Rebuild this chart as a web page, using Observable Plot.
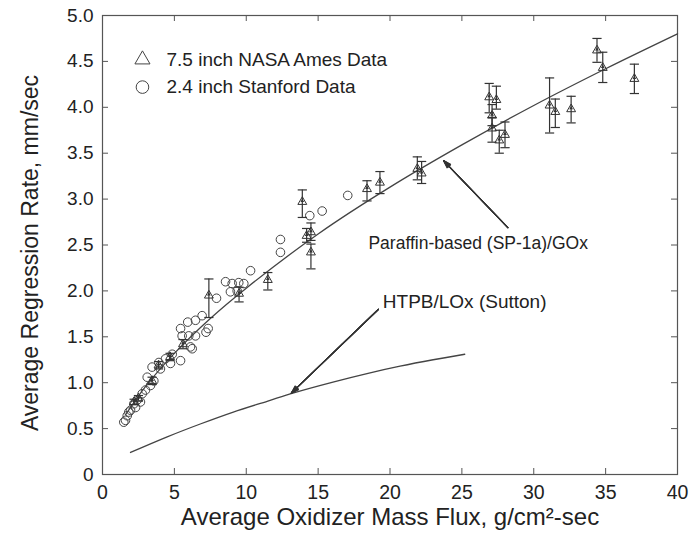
<!DOCTYPE html>
<html>
<head>
<meta charset="utf-8">
<script src="https://cdn.jsdelivr.net/npm/d3@7"></script>
<script src="https://cdn.jsdelivr.net/npm/@observablehq/plot@0.6"></script>
<style>
  html, body { margin: 0; padding: 0; background: #fff; }
</style>
</head>
<body>
<div id="chart"></div>
<script>
// ---- data ----
const xTicks = [0, 5, 10, 15, 20, 25, 30, 35, 40];
const yTicks = [0, 0.5, 1, 1.5, 2, 2.5, 3, 3.5, 4, 4.5, 5];

// 7.5 inch NASA Ames data: flux, rate, low, high
const amesG  = [34.4, 34.8, 37.0, 31.1, 31.5, 32.6, 26.9, 27.4, 27.1, 27.1, 27.6, 28.0, 21.9, 22.2, 19.3, 18.4, 13.9, 14.5, 14.2, 14.5, 11.5, 9.5, 7.4, 5.6, 4.7, 3.9, 3.45, 2.5, 2.2];
const amesR  = [4.62, 4.43, 4.31, 4.02, 3.95, 3.98, 4.11, 4.08, 3.91, 3.77, 3.64, 3.70, 3.33, 3.28, 3.18, 3.11, 2.97, 2.64, 2.60, 2.42, 2.12, 1.97, 1.95, 1.42, 1.28, 1.19, 1.02, 0.83, 0.79];
const amesLo = [4.49, 4.27, 4.15, 3.72, 3.78, 3.83, 3.94, 3.98, 3.80, 3.62, 3.50, 3.56, 3.21, 3.17, 3.06, 2.98, 2.80, 2.55, 2.53, 2.24, 2.01, 1.88, 1.71, 1.37, 1.24, 1.15, 0.98, 0.80, 0.76];
const amesHi = [4.75, 4.60, 4.47, 4.32, 4.09, 4.12, 4.26, 4.23, 4.03, 3.89, 3.75, 3.84, 3.46, 3.41, 3.30, 3.20, 3.10, 2.74, 2.68, 2.51, 2.20, 2.04, 2.13, 1.47, 1.32, 1.23, 1.06, 0.86, 0.82];

// 2.4 inch Stanford data: flux, rate
const stanG = [1.48, 1.60, 1.72, 1.83, 1.95, 2.18, 2.30, 2.41, 2.64, 2.76, 2.99, 3.11, 3.34, 3.45, 3.57, 3.92, 4.03, 4.38, 4.73, 4.85, 5.43, 5.54, 5.43, 5.93, 6.00, 6.12, 6.24, 6.47, 6.47, 6.93, 7.20, 7.35, 7.93, 8.56, 8.90, 9.02, 9.37, 9.48, 9.83, 10.3, 12.38, 12.38, 14.42, 15.28, 17.06];
const stanR = [0.57, 0.59, 0.64, 0.68, 0.70, 0.77, 0.73, 0.81, 0.79, 0.88, 0.92, 1.06, 0.97, 1.17, 1.02, 1.22, 1.15, 1.26, 1.21, 1.31, 1.24, 1.51, 1.59, 1.66, 1.51, 1.39, 1.37, 1.51, 1.68, 1.73, 1.55, 1.59, 1.92, 2.10, 1.99, 2.08, 2.00, 2.09, 2.08, 2.22, 2.56, 2.42, 2.82, 2.87, 3.04];

// Paraffin-based (SP-1a)/GOx fit curve
const parG = [1.6, 3, 5, 7.5, 10, 15, 20, 25, 30, 35, 40];
const parR = [0.65, 0.96, 1.32, 1.70, 2.03, 2.62, 3.13, 3.59, 4.02, 4.42, 4.80];

// HTPB/LOx (Sutton) curve
const htpbG = [1.95, 4.5, 6.8, 9.1, 11.5, 13.3, 16.1, 18.4, 20.7, 23.0, 25.2];
const htpbR = [0.24, 0.41, 0.55, 0.68, 0.80, 0.89, 1.01, 1.10, 1.18, 1.25, 1.31];

const legendLabels = ["7.5 inch NASA Ames Data", "2.4 inch Stanford Data"];
const xTitle = "Average Oxidizer Mass Flux, g/cm²-sec";
const yTitle = "Average Regression Rate, mm/sec";
const paraffinLabel = "Paraffin-based (SP-1a)/GOx";
const htpbLabel = "HTPB/LOx (Sutton)";

// ---- build tables ----
const ames = amesG.map((g, i) => ({G: g, r: amesR[i], lo: amesLo[i], hi: amesHi[i]}));
const stan = stanG.map((g, i) => ({G: g, r: stanR[i]}));
const par = parG.map((g, i) => ({G: g, r: parR[i]}));
const htpb = htpbG.map((g, i) => ({G: g, r: htpbR[i]}));

const legendTri = [{G: 2.78, r: 4.52, label: legendLabels[0]}];
const legendCirc = [{G: 2.78, r: 4.22, label: legendLabels[1]}];
const noteText = [
  {G: 18.5, r: 2.52, text: paraffinLabel, size: 17.5},
  {G: 19.5, r: 1.88, text: htpbLabel, size: 19}
];
const noteArrows = [
  {G1: 28.2, r1: 2.69, G2: 23.72, r2: 3.42},
  {G1: 19.2, r1: 1.80, G2: 13.13, r2: 0.886}
];

const W = 691, H = 533, mL = 102, mR = 14, mT = 15, mB = 59;
const pw = W - mL - mR, ph = H - mT - mB;
const ink = "#333";
const capW = 0.32;
const headAngles = [6, 12, 18, 24, 30, 36];

const chart = Plot.plot({
  width: W, height: H,
  marginLeft: mL, marginRight: mR, marginTop: mT, marginBottom: mB,
  x: {domain: [0, 40]},
  y: {domain: [0, 5]},
  style: {fontFamily: "'Liberation Sans', Arial, sans-serif", background: "#fff", color: "#222"},
  marks: [
    Plot.frame({stroke: "#555", strokeWidth: 1.2}),
    // inward ticks on all four sides
    Plot.tickX(xTicks, {x: d => d, insetTop: ph - 6, stroke: "#555"}),
    Plot.tickX(xTicks, {x: d => d, insetBottom: ph - 6, stroke: "#555"}),
    Plot.tickY(yTicks, {y: d => d, insetRight: pw - 6, stroke: "#555"}),
    Plot.tickY(yTicks, {y: d => d, insetLeft: pw - 6, stroke: "#555"}),
    Plot.axisX({ticks: xTicks, tickSize: 0, tickPadding: 11, fontSize: 19.5, label: null, tickFormat: d => String(d)}),
    Plot.axisY({ticks: yTicks, tickSize: 0, tickPadding: 9, fontSize: 19, label: null, tickFormat: d => d === 0 ? "0" : d.toFixed(1)}),
    Plot.text([xTitle], {frameAnchor: "bottom", dy: 50, text: d => d, fontSize: 24, fill: "#222"}),
    Plot.text([yTitle], {frameAnchor: "left", dx: -72, dy: 8, rotate: -90, textAnchor: "middle", text: d => d, fontSize: 23, fill: "#222"}),
    // curves
    Plot.line(par, {x: "G", y: "r", curve: "catmull-rom", stroke: "#444", strokeWidth: 1.3}),
    Plot.line(htpb, {x: "G", y: "r", curve: "catmull-rom", stroke: "#444", strokeWidth: 1.3}),
    // Stanford circles
    Plot.dot(stan, {x: "G", y: "r", r: 4.3, stroke: "#444", strokeWidth: 1, fill: "none"}),
    // Ames error bars
    Plot.ruleX(ames, {x: "G", y1: "lo", y2: "hi", stroke: ink, strokeWidth: 1.2}),
    Plot.link(ames, {x1: d => d.G - capW, x2: d => d.G + capW, y1: "hi", y2: "hi", stroke: ink, strokeWidth: 1.2}),
    Plot.link(ames, {x1: d => d.G - capW, x2: d => d.G + capW, y1: "lo", y2: "lo", stroke: ink, strokeWidth: 1.2}),
    Plot.dot(ames, {x: "G", y: "r", symbol: "triangle", r: 3.3, stroke: ink, strokeWidth: 1, fill: "none"}),
    Plot.dot(ames, {x: "G", y: "r", symbol: "triangle", r: 1.4, dy: -1, fill: ink, stroke: "none"}),
    // legend
    Plot.dot(legendTri, {x: "G", y: "r", symbol: "triangle", r: 5.6, stroke: "#444", strokeWidth: 1, fill: "none"}),
    Plot.dot(legendCirc, {x: "G", y: "r", symbol: "circle", r: 6.3, stroke: "#444", strokeWidth: 1, fill: "none"}),
    Plot.text(legendTri.concat(legendCirc), {x: "G", y: "r", text: "label", dx: 24, textAnchor: "start", fontSize: 19, fill: "#222"}),
    // annotations
    Plot.text(noteText, {x: "G", y: "r", text: "text", textAnchor: "start", fontSize: "size", fill: "#222"}),
    ...headAngles.map(a => Plot.arrow(noteArrows, {x1: "G1", y1: "r1", x2: "G2", y2: "r2", stroke: "#333", strokeWidth: 1.1, headLength: 11, headAngle: a}))
  ]
});
document.getElementById("chart").appendChild(chart);
</script>
</body>
</html>
